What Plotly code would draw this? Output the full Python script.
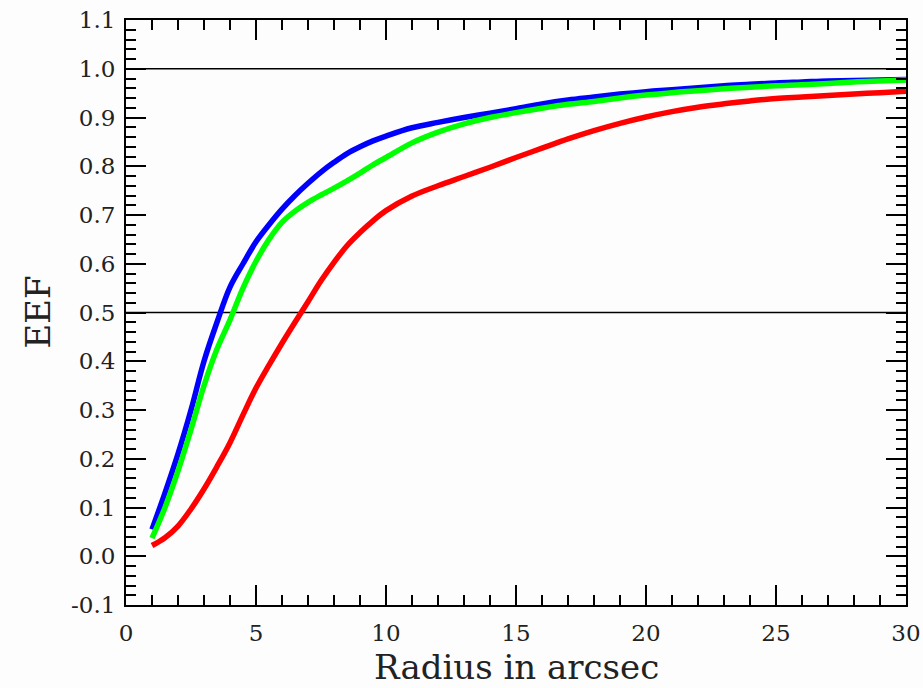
import plotly.graph_objects as go

# radius values (arcsec)
radius = [1, 1.5, 2, 2.5, 3, 3.5, 4, 4.5, 5, 5.5, 6, 6.5, 7, 7.5, 8, 8.5, 9, 9.5, 10,
          11, 12, 13, 14, 15, 16, 17, 18, 19, 20, 21, 22, 23, 24, 25, 26, 27, 28, 29, 30]

eef_blue = [0.055, 0.13, 0.21, 0.30, 0.40, 0.48, 0.552, 0.60, 0.645, 0.68, 0.712, 0.74, 0.765,
            0.788, 0.808, 0.826, 0.84, 0.852, 0.862,
            0.879, 0.89, 0.90, 0.909, 0.918, 0.928, 0.936, 0.942, 0.948, 0.953, 0.957, 0.961,
            0.965, 0.968, 0.971, 0.973, 0.975, 0.976, 0.977, 0.978]

eef_green = [0.037, 0.10, 0.175, 0.26, 0.35, 0.425, 0.485, 0.55, 0.605, 0.65, 0.685, 0.708, 0.726,
             0.741, 0.755, 0.77, 0.786, 0.803, 0.818,
             0.848, 0.87, 0.887, 0.9, 0.91, 0.919, 0.927, 0.933, 0.94, 0.946, 0.951, 0.955,
             0.959, 0.962, 0.965, 0.967, 0.970, 0.973, 0.975, 0.977]

eef_red = [0.022, 0.038, 0.062, 0.097, 0.138, 0.184, 0.233, 0.29, 0.345, 0.392, 0.437, 0.48, 0.522,
           0.565, 0.603, 0.637, 0.664, 0.688, 0.709,
           0.739, 0.76, 0.779, 0.798, 0.818, 0.837, 0.856, 0.873, 0.888, 0.901, 0.912, 0.921,
           0.928, 0.934, 0.939, 0.942, 0.945, 0.948, 0.951, 0.954]

ref_levels = [1.0, 0.5]

y_ticks = [-0.1, 0.0, 0.1, 0.2, 0.3, 0.4, 0.5, 0.6, 0.7, 0.8, 0.9, 1.0, 1.1]
y_labels = ["-0.1", "0.0", "0.1", "0.2", "0.3", "0.4", "0.5", "0.6", "0.7", "0.8", "0.9", "1.0", "1.1"]
x_ticks = [0, 5, 10, 15, 20, 25, 30]

font = "DejaVu Serif"

fig = go.Figure()
for lvl in ref_levels:
    fig.add_trace(go.Scatter(x=[0, 30], y=[lvl, lvl], mode="lines",
                             line=dict(color="black", width=1.5), showlegend=False))

fig.add_trace(go.Scatter(x=radius, y=eef_red, mode="lines", line=dict(color="#ff0000", width=5.5, shape="spline"), showlegend=False))
fig.add_trace(go.Scatter(x=radius, y=eef_blue, mode="lines", line=dict(color="#0000ff", width=5.5, shape="spline"), showlegend=False))
fig.add_trace(go.Scatter(x=radius, y=eef_green, mode="lines", line=dict(color="#00ff00", width=5.5, shape="spline"), showlegend=False))

axis_common = dict(showgrid=False, zeroline=False, showline=True, linecolor="black", linewidth=2,
                   mirror="allticks", ticks="inside", ticklen=20, tickwidth=2, tickcolor="black",
                   automargin=False, ticklabeloverflow="allow",
                   tickfont=dict(family=font, size=23, color="#222"))

fig.update_xaxes(range=[0, 30], tickvals=x_ticks, ticklabelstandoff=6,
                 minor=dict(ticks="inside", dtick=1, ticklen=10, tickwidth=2, tickcolor="black"),
                 **axis_common)
fig.update_yaxes(range=[-0.1, 1.1], tickvals=y_ticks, ticktext=y_labels, ticklabelstandoff=4,
                 minor=dict(ticks="inside", dtick=0.02, ticklen=10, tickwidth=2, tickcolor="black"),
                 **axis_common)

fig.add_annotation(text="Radius in arcsec", xref="paper", yref="paper", x=0.5, y=-0.106,
                   xanchor="center", yanchor="middle", showarrow=False,
                   font=dict(family=font, size=34, color="#222"))
fig.add_annotation(text="EEF", xref="paper", yref="paper", x=-0.114, y=0.5, textangle=-90,
                   xanchor="center", yanchor="middle", showarrow=False,
                   font=dict(family=font, size=34, color="#222"))

fig.update_layout(width=923, height=688, margin=dict(l=126, r=17, t=20, b=83),
                  plot_bgcolor="#fdfdfd", paper_bgcolor="#fdfdfd")

# drop the default body margin so the 923x688 figure fills the window exactly
fig.write_html("out.html", config={"displayModeBar": False},
               post_script="document.body.style.margin='0';document.body.style.overflow='hidden';")
